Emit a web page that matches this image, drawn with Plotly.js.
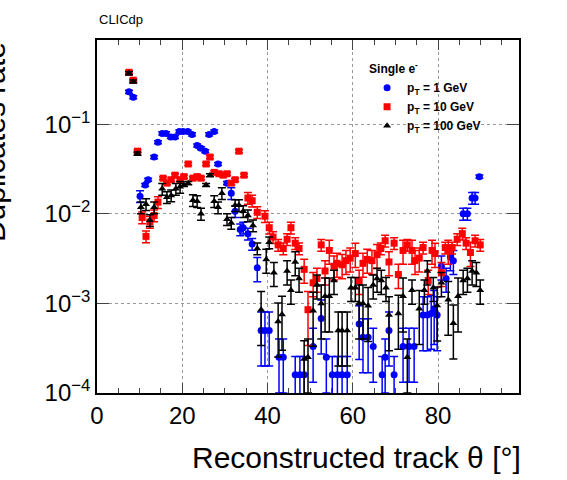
<!DOCTYPE html>
<html>
<head>
<script src="https://cdn.plot.ly/plotly-3.0.1.min.js"></script>
<style>body{margin:0}</style>
</head>
<body>
<div id="graph" style="width:567px;height:480px"></div>
<script>
const x1 = [7.5,8.5,10.1,11.3,12,13.4,14.3,15.3,16.2,17.3,18.3,19.3,20.2,21.3,22.3,23.5,24.4,25.4,26.3,27.5,28.4,30.5,31.5,32.4,33.6,34.3,35.4,36.4,37.6,38.5,39.4,40.4,42.7,43.7,46.5,47.6,48.6,50.7,52.6,53.8,55.2,56.4,57.5,58.7,61.5,62.4,63.6,64.8,66.9,67.6,68.5,69.7,71.8,73.2,74.4,76.5,77.5,78.4,79.1,79.8,80.8,81.9,82.9,83.6,85.9,86.9,88,88.7,89.7];
const y1 = [0.23,0.2,0.0157,0.021,0.024,0.043,0.063,0.079,0.079,0.072,0.072,0.083,0.083,0.083,0.077,0.058,0.054,0.05,0.077,0.083,0.036,0.022,0.017,0.0107,0.0067,0.007,0.006,0.0046,0.0025,0.0005,0.0005,0.0005,0.00025,0.00025,0.00016,0.00016,0.00016,0.00033,0.00068,0.00025,0.00016,0.00016,0.00016,0.00016,0.00059,0.00042,0.00042,0.00033,0.00016,0.00025,0.0005,0.00016,0.00033,0.00033,0.00033,0.00074,0.00074,0.00077,0.00087,0.00074,0.0026,0.0019,0.0033,0.003,0.01,0.01,0.015,0.015,0.026];

const x2 = [7.5,8.5,9.5,10.6,11.5,12.4,13.4,14.3,15.5,16.4,17.4,18.3,19.5,20.4,21.4,22.5,23.5,24.4,25.6,26.5,27.5,28.6,29.6,30.5,31.5,32.4,33.3,34.5,35.4,36.4,37.6,39.4,40.4,41.3,42.5,43.7,44.6,45.5,46.5,47.4,48.6,49.5,50.7,51.6,52.6,53.5,54.5,55.6,56.3,57.5,58.4,59.4,60.6,61.5,62.4,63.4,64.5,65.7,66.6,67.6,68.5,69.7,70.7,71.8,72.8,73.9,74.6,75.6,76.5,77.7,78.6,79.3,80.8,81.7,82.4,83.3,84.5,85.7,86.6,87.6,88.7,89.9];
const y2 = [0.38,0.31,0.05,0.0091,0.0056,0.0081,0.0096,0.0135,0.025,0.022,0.024,0.027,0.024,0.026,0.036,0.025,0.026,0.025,0.036,0.043,0.029,0.028,0.027,0.028,0.022,0.024,0.05,0.027,0.015,0.014,0.0104,0.0094,0.007,0.0055,0.0045,0.0041,0.0052,0.007,0.0047,0.0041,0.0024,0.00085,0.0017,0.0019,0.0045,0.0023,0.0039,0.0026,0.0028,0.0027,0.003,0.0032,0.0036,0.0018,0.0028,0.0031,0.003,0.0035,0.0041,0.005,0.0029,0.0047,0.0021,0.0039,0.0045,0.0039,0.003,0.0032,0.0042,0.0018,0.0039,0.0036,0.0022,0.0042,0.0039,0.0042,0.0052,0.006,0.0047,0.0037,0.005,0.0045];

const x3 = [7.5,8.5,9.5,10.3,11.5,12.4,13.4,15.3,16.4,17.4,18.5,19.5,20.4,21.4,22.5,23.5,24.4,25.6,26.5,27.5,28.4,29.3,30.5,31.5,32.4,33.3,34.3,35.4,36.6,37.6,38.5,39.7,40.4,41.5,42.5,43.4,44.6,45.5,46.5,47.4,48.6,49.5,50.7,51.6,52.6,53.5,54.5,55.6,56.6,57.5,58.7,59.6,60.6,61.5,62.4,63.6,64.8,65.7,66.7,67.8,68.5,70.7,71.8,72.8,73.9,75.6,76.8,77.5,78.9,79.8,80.8,82.4,83.6,84.7,85.9,86.9,88,89,89.9];
const y3 = [0.37,0.3,0.047,0.0118,0.0128,0.0085,0.0118,0.019,0.0153,0.016,0.019,0.02,0.021,0.022,0.0142,0.0138,0.01,0.021,0.027,0.0138,0.0118,0.017,0.0087,0.0079,0.0125,0.0125,0.0107,0.0096,0.0074,0.0041,0.00085,0.0031,0.0048,0.0022,0.00063,0.00075,0.0023,0.0014,0.0029,0.0019,0.00024,0.00025,0.00083,0.0016,0.001,0.0012,0.0012,0.0018,0.0005,0.0005,0.0005,0.0015,0.0015,0.001,0.001,0.00094,0.0016,0.0019,0.0018,0.0015,0.00074,0.00077,0.0012,0.00025,0.0014,0.00087,0.0014,0.0023,0.0015,0.00095,0.0017,0.0011,0.0006,0.0012,0.0018,0.0019,0.0023,0.0022,0.0014];

function errs(ys) {
  return ys.map(v => v * (v > 0.02 ? 0.04 : v > 0.004 ? 0.15 : v > 0.0012 ? 0.3 : 0.6));
}

function series(name, xs, ys, color, symbol) {
  return {
    x: xs, y: ys, name: name, type: "scatter", mode: "markers",
    marker: { color: color, symbol: symbol, size: 7 },
    error_y: { type: "data", array: errs(ys), color: color, thickness: 1.5, width: 4 }
  };
}

const data = [
  series("<b>p<sub>T</sub> = 1 GeV</b>", x1, y1, "#0000ff", "circle"),
  series("<b>p<sub>T</sub> = 10 GeV</b>", x2, y2, "#ff0000", "square"),
  series("<b>p<sub>T</sub> = 100 GeV</b>", x3, y3, "#000000", "triangle-up")
];

const yticks = [1e-4, 1e-3, 1e-2, 1e-1];
const ylabels = ["10<sup>−4</sup>", "10<sup>−3</sup>", "10<sup>−2</sup>", "10<sup>−1</sup>"];

Plotly.newPlot("graph", data, {
  width: 567, height: 480,
  margin: { l: 97, r: 48, t: 40, b: 87 },
  paper_bgcolor: "#fff", plot_bgcolor: "#fff",
  font: { family: "Liberation Sans, Arial, sans-serif", color: "#000" },
  showlegend: true,
  legend: { x: 0.64, y: 0.95, bgcolor: "rgba(0,0,0,0)", font: { size: 12 }, tracegroupgap: 0,
    title: { text: "<b>Single e<sup>-</sup></b>", font: { size: 12 } } },
  xaxis: {
    range: [0, 99], tickvals: [0, 20, 40, 60, 80], tickfont: { size: 24 },
    showline: true, linecolor: "#000", linewidth: 1.5, mirror: "ticks",
    ticks: "inside", ticklen: 10, minor: { ticks: "inside", ticklen: 5, dtick: 5, showgrid: false },
    showgrid: true, gridcolor: "#999", griddash: "dot", gridwidth: 1, zeroline: false
  },
  yaxis: {
    type: "log", range: [-4, -0.06], tickvals: yticks, ticktext: ylabels, tickfont: { size: 24 },
    showline: true, linecolor: "#000", linewidth: 1.5, mirror: "ticks",
    ticks: "inside", ticklen: 12,
    showgrid: true, gridcolor: "#999", griddash: "dot", gridwidth: 1
  },
  annotations: [
    { text: "CLICdp", xref: "paper", yref: "paper", x: 0, y: 1.03,
      xanchor: "left", yanchor: "bottom", showarrow: false, font: { size: 13 } },
    { text: "Reconstructed track θ [°]", xref: "paper", yref: "paper", x: 1.01, y: -0.13,
      xanchor: "right", yanchor: "top", showarrow: false, font: { size: 30 } },
    { text: "Duplicates rate", xref: "paper", yref: "paper", x: -0.2, y: 1.0,
      xanchor: "right", yanchor: "top", textangle: -90, showarrow: false, font: { size: 30 } }
  ]
}, { displayModeBar: false });
</script>
</body>
</html>
